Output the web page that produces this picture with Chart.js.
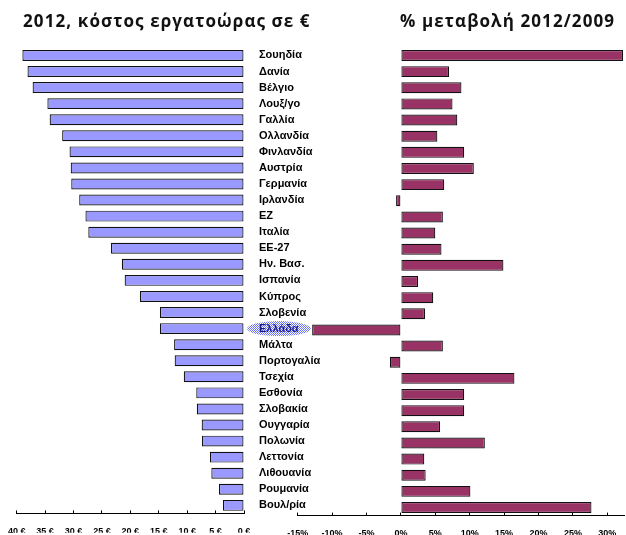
<!DOCTYPE html>
<html>
<head>
<meta charset="utf-8">
<script src="https://cdn.jsdelivr.net/npm/chart.js@4.4.1/dist/chart.umd.min.js"></script>
<style>
  html, body { margin: 0; padding: 0; background: #fff; }
  #wrap { position: relative; width: 626px; height: 535px; overflow: hidden; }
  canvas { position: absolute; left: 0; top: 0; }
  .title { position: absolute; top: 9px; font: bold 17px "Open Sans", sans-serif; letter-spacing: 1.1px; color: #111; white-space: nowrap; }
</style>
</head>
<body>
<div id="wrap">
  <canvas id="left" width="626" height="535"></canvas>
  <canvas id="right" width="626" height="535"></canvas>
  <div class="title" style="left:23px">2012, κόστος εργατοώρας σε €</div>
  <div class="title" style="left:400px">% μεταβολή 2012/2009</div>
</div>
<script>
const countries = [
  "Σουηδία", "Δανία", "Βέλγιο", "Λουξ/γο", "Γαλλία", "Ολλανδία", "Φινλανδία",
  "Αυστρία", "Γερμανία", "Ιρλανδία", "ΕΖ", "Ιταλία", "ΕΕ-27", "Ην. Βασ.",
  "Ισπανία", "Κύπρος", "Σλοβενία", "Ελλάδα", "Μάλτα", "Πορτογαλία", "Τσεχία",
  "Εσθονία", "Σλοβακία", "Ουγγαρία", "Πολωνία", "Λεττονία", "Λιθουανία",
  "Ρουμανία", "Βουλ/ρία"
]

// labour cost per hour 2012, in euro
const laborCost2012 = [
  39.0, 38.1, 37.2, 34.6, 34.2, 32.0, 30.7, 30.5, 30.4, 29.0, 27.9, 27.4, 23.4, 21.5,
  21.0, 18.3, 14.8, 14.8, 12.3, 12.2, 10.6, 8.4, 8.3, 7.45, 7.4, 6.0, 5.75, 4.4, 3.7
]

// % change 2012 vs 2009
const change2012vs2009 = [
  32.3, 7.0, 8.8, 7.5, 8.2, 5.3, 9.2, 10.6, 6.3, -0.7, 6.1, 5.0, 5.9, 14.9,
  2.5, 4.7, 3.5, -12.9, 6.1, -1.6, 16.5, 9.2, 9.2, 5.7, 12.2, 3.4, 3.6, 10.1, 27.7
]

const costTicks = [0, 5, 10, 15, 20, 25, 30, 35, 40]
const changeTicks = [-15, -10, -5, 0, 5, 10, 15, 20, 25, 30]

const GREECE = countries.indexOf("Ελλάδα")

Chart.defaults.font.family = "'Liberation Sans', Arial, sans-serif"
Chart.defaults.color = "#000"

// light blue dotted fill behind the Greece label
const dotted = (() => {
  const c = document.createElement("canvas")
  c.width = 2
  c.height = 2
  const g = c.getContext("2d")
  g.fillStyle = "#ffffff"
  g.fillRect(0, 0, 2, 2)
  g.fillStyle = "#6a74ff"
  g.fillRect(0, 0, 1, 1)
  g.fillRect(1, 1, 1, 1)
  return c
})()

const highlight = {
  id: "highlight",
  beforeDraw(chart) {
    const ctx = chart.ctx
    const y = chart.scales.y
    const cy = y.getPixelForTick(GREECE)
    ctx.save()
    ctx.font = "bold 11px 'Liberation Sans'"
    const w = ctx.measureText(countries[GREECE]).width
    const cx = chart.chartArea.right + 15 + w / 2
    ctx.beginPath()
    ctx.ellipse(cx, cy, w / 2 + 12, 7.5, 0, 0, Math.PI * 2)
    ctx.fillStyle = ctx.createPattern(dotted, "repeat")
    ctx.fill()
    ctx.restore()
  }
}

const axisX = (ticksList, suffix) => ({
  afterBuildTicks: scale => {
    scale.ticks = ticksList.map(v => ({ value: v }))
  },
  ticks: {
    callback: v => v + suffix,
    font: { size: 9, weight: "bold" },
    padding: 16,
    maxRotation: 0,
    autoSkip: false
  },
  grid: { drawOnChartArea: false, tickLength: -3, color: "#000" },
  border: { color: "#000", width: 1 },
  afterFit: scale => {
    // plot edges are set by layout padding, not by label overflow
    scale.height = 535 - 515.6
    scale.paddingLeft = 0
    scale.paddingRight = 0
  }
})

const barStyle = {
  borderColor: "#111",
  borderWidth: 1.2,
  borderSkipped: false,
  barPercentage: 0.68,
  categoryPercentage: 1
}

new Chart(document.getElementById("left"), {
  type: "bar",
  data: {
    labels: countries,
    datasets: [{ data: laborCost2012, backgroundColor: "#9999ff", ...barStyle }]
  },
  options: {
    indexAxis: "y",
    responsive: false,
    animation: false,
    layout: { padding: { top: 47.4, left: 16.7, right: 0, bottom: 0 } },
    plugins: { legend: { display: false }, tooltip: { enabled: false } },
    scales: {
      x: { ...axisX(costTicks, " €"), reverse: true, min: 0, max: 40 },
      y: {
        position: "right",
        grid: { display: false, drawTicks: false },
        border: { display: false },
        ticks: {
          padding: 15,
          autoSkip: false,
          color: ctx => ctx.index === GREECE ? "#1c1c8c" : "#000",
          font: { size: 11, weight: "bold" }
        },
        afterFit: scale => { scale.width = 626 - 244 }
      }
    }
  },
  plugins: [highlight]
})

new Chart(document.getElementById("right"), {
  type: "bar",
  data: {
    labels: countries,
    datasets: [{ data: change2012vs2009, backgroundColor: "#993366", ...barStyle }]
  },
  options: {
    indexAxis: "y",
    responsive: false,
    animation: false,
    layout: { padding: { top: 47.4, left: 297.7, right: 1.5, bottom: 0 } },
    plugins: { legend: { display: false }, tooltip: { enabled: false } },
    scales: {
      x: { ...axisX(changeTicks, "%"), min: -15, max: 32.5 },
      y: { display: false }
    }
  }
})
</script>
</body>
</html>
